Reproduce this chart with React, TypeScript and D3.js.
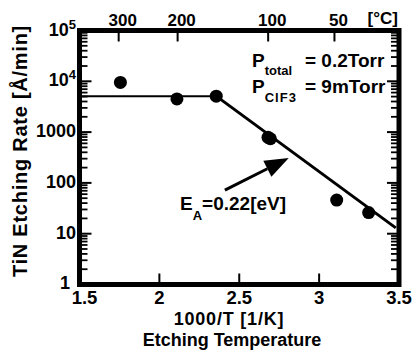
import { useEffect, useRef } from 'react';
import * as d3 from 'd3';

// measured points: 1000/T [1/K] vs etching rate [Å/min]
const invT = [1.756, 2.11, 2.356, 2.68, 2.695, 3.11, 3.31];
const rates = [9500, 4500, 5100, 790, 740, 46, 26];

// fitted lines: plateau then Arrhenius slope
const plateauX = [1.5, 2.356];
const plateauY = [5100, 5100];
const slopeX = [2.356, 3.48];
const slopeY = [5100, 13];

// arrow annotation (tail -> head) in data coordinates
const arrowX = [2.41, 2.81];
const arrowY = [72, 310];

const xTicks = [1.5, 2, 2.5, 3, 3.5];
const yTicks = [1, 10, 100, 1000, 1e4, 1e5];
const yTickLabels = ['1', '10', '100', '1000', '10^4', '10^5'];
const celsius = [300, 200, 100, 50];

export default function App() {
  const svgRef = useRef<SVGSVGElement>(null);

  useEffect(() => {
    if (!svgRef.current) return;
    const svg = d3.select(svgRef.current);
    svg.selectAll('*').remove();

    const x = d3.scaleLinear().domain([1.5, 3.5]).range([79.5, 399]);
    const y = d3.scaleLog().domain([1, 1e5]).range([284.5, 30.5]);
    const font = "'Liberation Sans', Arial, sans-serif";

    const g = svg.append('g');

    // minor + major ticks on left & right (inside)
    const minor: number[] = [];
    for (let e = 0; e < 5; e++) {
      for (let m = 2; m <= 9; m++) minor.push(m * Math.pow(10, e));
    }
    [
      { x0: x.range()[0], dir: 1 },
      { x0: x.range()[1], dir: -1 },
    ].forEach(side => {
      g.selectAll(null)
        .data(minor)
        .enter()
        .append('line')
        .attr('x1', side.x0)
        .attr('x2', side.x0 + side.dir * 8)
        .attr('y1', d => y(d))
        .attr('y2', d => y(d))
        .attr('stroke', '#000')
        .attr('stroke-width', 1.8);
      g.selectAll(null)
        .data(yTicks.slice(1, -1))
        .enter()
        .append('line')
        .attr('x1', side.x0)
        .attr('x2', side.x0 + side.dir * 12)
        .attr('y1', d => y(d))
        .attr('y2', d => y(d))
        .attr('stroke', '#000')
        .attr('stroke-width', 2);
    });

    // bottom ticks
    g.selectAll(null)
      .data(xTicks.slice(1, -1))
      .enter()
      .append('line')
      .attr('x1', d => x(d))
      .attr('x2', d => x(d))
      .attr('y1', y.range()[0])
      .attr('y2', y.range()[0] - 11)
      .attr('stroke', '#000')
      .attr('stroke-width', 2);

    // top ticks (°C)
    g.selectAll(null)
      .data(celsius)
      .enter()
      .append('line')
      .attr('x1', d => x(1000 / (d + 273)))
      .attr('x2', d => x(1000 / (d + 273)))
      .attr('y1', y.range()[1])
      .attr('y2', y.range()[1] + 11)
      .attr('stroke', '#000')
      .attr('stroke-width', 2);

    // frame
    g.append('rect')
      .attr('x', x.range()[0])
      .attr('y', y.range()[1])
      .attr('width', x.range()[1] - x.range()[0])
      .attr('height', y.range()[0] - y.range()[1])
      .attr('fill', 'none')
      .attr('stroke', '#000')
      .attr('stroke-width', 5);

    // fitted lines
    const line = d3.line<[number, number]>().x(d => x(d[0])).y(d => y(d[1]));
    g.append('path')
      .datum(plateauX.map((v, i) => [v, plateauY[i]] as [number, number]))
      .attr('d', line)
      .attr('fill', 'none')
      .attr('stroke', '#000')
      .attr('stroke-width', 2);
    g.append('path')
      .datum(slopeX.map((v, i) => [v, slopeY[i]] as [number, number]))
      .attr('d', line)
      .attr('fill', 'none')
      .attr('stroke', '#000')
      .attr('stroke-width', 3);

    // points
    g.selectAll(null)
      .data(invT)
      .enter()
      .append('circle')
      .attr('cx', d => x(d))
      .attr('cy', (_, i) => y(rates[i]))
      .attr('r', 6.5)
      .attr('fill', '#000');

    // arrow
    const ax0 = x(arrowX[0]), ay0 = y(arrowY[0]);
    const ax1 = x(arrowX[1]), ay1 = y(arrowY[1]);
    const ang = Math.atan2(ay1 - ay0, ax1 - ax0);
    const headLen = 24, headW = 9;
    const bx = ax1 - headLen * Math.cos(ang), by = ay1 - headLen * Math.sin(ang);
    g.append('line')
      .attr('x1', ax0).attr('y1', ay0).attr('x2', bx).attr('y2', by)
      .attr('stroke', '#000').attr('stroke-width', 3);
    g.append('path')
      .attr('d', `M${ax1},${ay1} L${bx - headW * Math.sin(ang)},${by + headW * Math.cos(ang)} L${bx + headW * Math.sin(ang)},${by - headW * Math.cos(ang)} Z`)
      .attr('fill', '#000');

    const text = (sel: d3.Selection<SVGGElement, unknown, null, undefined>) =>
      sel.append('text').attr('font-family', font).attr('font-weight', 'bold').attr('fill', '#000');

    // bottom tick labels
    xTicks.forEach(t => {
      text(g).attr('x', x(t) + (t === 1.5 ? 5 : 0)).attr('y', 304)
        .attr('text-anchor', 'middle').attr('font-size', 18.5).text(String(t));
    });

    // left tick labels
    yTicks.forEach((t, i) => {
      const lab = yTickLabels[i];
      const tx = text(g).attr('x', t === 1 ? 70 : 76).attr('y', y(t) + (t === 1 ? 4 : 5))
        .attr('text-anchor', 'end').attr('font-size', 18);
      if (lab.includes('^')) {
        const [b, e] = lab.split('^');
        tx.append('tspan').text(b);
        tx.append('tspan').attr('dy', -7).attr('font-size', 13).text(e);
      } else {
        tx.text(lab);
      }
    });

    // top °C labels
    celsius.forEach(c => {
      text(g).attr('x', x(1000 / (c + 273)) + 4).attr('y', 26)
        .attr('text-anchor', 'middle').attr('font-size', 17).text(String(c));
    });
    text(g).attr('x', 398).attr('y', 24).attr('text-anchor', 'end')
      .attr('font-size', 17).text('[°C]');

    // axis titles
    text(g).attr('x', 229).attr('y', 325).attr('text-anchor', 'middle')
      .attr('font-size', 18).attr('letter-spacing', 0.8).text('1000/T [1/K]');
    text(g).attr('x', 232).attr('y', 346).attr('text-anchor', 'middle')
      .attr('font-size', 18).text('Etching Temperature');
    text(g).attr('transform', 'translate(27,151) rotate(-90)').attr('text-anchor', 'middle')
      .attr('font-size', 20).attr('letter-spacing', 0.75).text('TiN Etching Rate [Å/min]');

    // conditions
    const p1 = text(g).attr('x', 252).attr('y', 67).attr('font-size', 19);
    p1.append('tspan').text('P');
    p1.append('tspan').attr('dy', 8).attr('font-size', 13).text('total');
    p1.append('tspan').attr('x', 305).attr('dy', -8).text('= 0.2Torr');
    const p2 = text(g).attr('x', 252).attr('y', 93).attr('font-size', 19);
    p2.append('tspan').text('P');
    p2.append('tspan').attr('dy', 9).attr('font-size', 13).attr('letter-spacing', 1).text('ClF3');
    p2.append('tspan').attr('x', 305).attr('dy', -9).text('= 9mTorr');

    // activation energy
    const ea = text(g).attr('x', 180).attr('y', 210).attr('font-size', 19);
    ea.append('tspan').text('E');
    ea.append('tspan').attr('dy', 10).attr('font-size', 13).text('A');
    ea.append('tspan').attr('dy', -10).text('=0.22[eV]');
  }, []);

  return (
    <div>
      <style>{`body{margin:0;background:#fff}`}</style>
      <svg ref={svgRef} width={418} height={356} style={{ display: 'block' }} />
    </div>
  );
}
